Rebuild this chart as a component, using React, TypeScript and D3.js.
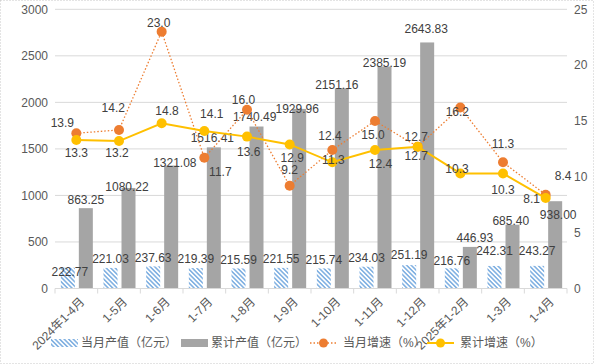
import * as d3 from 'd3';

const categories = ['2024年1-4月', '1-5月', '1-6月', '1-7月', '1-8月', '1-9月', '1-10月', '1-11月', '1-12月', '2025年1-2月', '1-3月', '1-4月'];
const monthlyOutput = [222.77, 221.03, 237.63, 219.39, 215.59, 221.55, 215.74, 234.03, 251.19, 216.76, 242.31, 243.27];
const cumulativeOutput = [863.25, 1080.22, 1321.08, 1516.41, 1740.49, 1929.96, 2151.16, 2385.19, 2643.83, 446.93, 685.4, 938.0];
const monthlyGrowth = [13.9, 14.2, 23.0, 11.7, 16.0, 9.2, 12.4, 15.0, 12.7, 16.2, 11.3, 8.4];
const cumulativeGrowth = [13.3, 13.2, 14.8, 14.1, 13.6, 12.9, 11.3, 12.4, 12.7, 10.3, 10.3, 8.1];
const leftTicks = [0, 500, 1000, 1500, 2000, 2500, 3000];
const rightTicks = [0, 5, 10, 15, 20, 25];
const legendLabels = ['当月产值（亿元）', '累计产值（亿元）', '当月增速（%）', '累计增速（%）'];

// label nudges (px) as placed in the original, [dx, dy] from bar top / point
const monthlyLabelNudge = [[2, 4], [0, -9], [0, -9], [0, -9], [0, -9], [0, -9], [0, -9], [0, -9], [0, -10], [0, -8], [0, -15], [0, -15]];
const cumulativeLabelNudge = [[0, -8], [-1.5, -1], [3.7, -2.6], [-1.5, -10], [-1.7, -10], [-2, 0], [-5, -3.4], [0, -3.6], [-1, -13.6], [5, -9], [-1.7, -4], [3, 14]];
const monthlyGrowthNudge = [[-14, -10], [-5.7, -22.6], [-3, -9.3], [16, 14], [-3.5, -10.5], [0, -15.7], [-2.3, -14], [-2, 14.3], [-1.4, -10], [-3, 4], [0, -18.3], [17.5, -18.7]];
const cumulativeGrowthNudge = [[0, 12.7], [-2, 11.6], [5.3, -12.5], [7.4, -17.7], [1.7, 15], [2.5, 13.6], [1, -3], [5.5, 13.3], [-1.4, 9.4], [-3.3, -5], [0, 16.5], [-14, 1]];

const W = 594;
const H = 364;
const plot = { left: 55, right: 567, top: 9.3, bottom: 288.5 };
const FONT = "'Liberation Sans', 'Noto Sans CJK SC', sans-serif";
const AXIS_TEXT = '#595959';
const LABEL_TEXT = '#404040';
const GRID = '#d9d9d9';
const BLUE = '#4a8fd6';
const GRAY = '#a5a5a5';
const ORANGE = '#ed7d31';
const YELLOW = '#ffc000';

export default function App() {
  const x = d3.scaleBand<string>().domain(categories).range([plot.left, plot.right]);
  const yL = d3.scaleLinear().domain([0, 3000]).range([plot.bottom, plot.top]);
  const yR = d3.scaleLinear().domain([0, 25]).range([plot.bottom, plot.top]);
  const cx = (i: number) => (x(categories[i]) ?? 0) + x.bandwidth() / 2;

  const barW = 14;
  const mX = (i: number) => cx(i) - 15.5;
  const cX = (i: number) => cx(i) + 2.5;

  const growthLine = d3
    .line<number>()
    .x((_, i) => cx(i))
    .y((d) => yR(d));

  const fmt2 = d3.format('.2f');
  const fmt1 = d3.format('.1f');

  const legendY = 343;

  return (
    <svg width={W} height={H} style={{ position: 'fixed', left: 0, top: 0, background: '#fff' }} fontFamily={FONT}>
      <defs>
        <pattern id="hatch" width="3.2" height="3.2" patternUnits="userSpaceOnUse" patternTransform="rotate(-45)">
          <rect width="3.2" height="3.2" fill="#fff" />
          <line x1="0.8" y1="0" x2="0.8" y2="3.2" stroke={BLUE} strokeWidth="1.1" />
        </pattern>
      </defs>
      <rect x={0.5} y={0.5} width={W - 1} height={H - 1} fill="#fff" stroke="#c8c8c8" strokeDasharray="1 2" />

      {/* gridlines */}
      {leftTicks.slice(1).map((t) => (
        <line key={t} x1={plot.left} x2={plot.right} y1={yL(t)} y2={yL(t)} stroke={GRID} strokeWidth={1} />
      ))}
      {/* left axis labels */}
      {leftTicks.map((t) => (
        <text key={t} x={48} y={yL(t)} dy="0.35em" textAnchor="end" fontSize={12} fill={AXIS_TEXT}>
          {t}
        </text>
      ))}
      {/* right axis labels */}
      {rightTicks.map((t) => (
        <text key={t} x={574} y={yR(t)} dy="0.35em" textAnchor="start" fontSize={12} fill={AXIS_TEXT}>
          {t}
        </text>
      ))}

      {/* bars */}
      {monthlyOutput.map((v, i) => (
        <rect key={'m' + i} x={mX(i)} y={yL(v)} width={barW} height={yL(0) - yL(v)} fill="url(#hatch)" />
      ))}
      {cumulativeOutput.map((v, i) => (
        <rect key={'c' + i} x={cX(i)} y={yL(v)} width={barW} height={yL(0) - yL(v)} fill={GRAY} />
      ))}

      {/* x axis */}
      <line x1={plot.left} x2={plot.right} y1={plot.bottom} y2={plot.bottom} stroke={GRID} />
      {d3.range(categories.length + 1).map((i) => {
        const tx = plot.left + i * x.bandwidth();
        return <line key={i} x1={tx} x2={tx} y1={plot.bottom} y2={plot.bottom + 5} stroke={GRID} />;
      })}
      {categories.map((c, i) => (
        <text
          key={c}
          transform={`translate(${cx(i) + 6},${plot.bottom + 11}) rotate(-45)`}
          textAnchor="end"
          dy="0.35em"
          fontSize={12}
          fill={AXIS_TEXT}
        >
          {c}
        </text>
      ))}

      {/* bar labels */}
      {cumulativeOutput.map((v, i) => (
        <text
          key={'cl' + i}
          x={cX(i) + barW / 2 + cumulativeLabelNudge[i][0]}
          y={yL(v) + cumulativeLabelNudge[i][1]}
          dy="0.35em"
          textAnchor="middle"
          fontSize={12}
          fill={LABEL_TEXT}
        >
          {fmt2(v)}
        </text>
      ))}
      {monthlyOutput.map((v, i) => (
        <text
          key={'ml' + i}
          x={mX(i) + barW / 2 + monthlyLabelNudge[i][0]}
          y={yL(v) + monthlyLabelNudge[i][1]}
          dy="0.35em"
          textAnchor="middle"
          fontSize={12}
          fill={LABEL_TEXT}
        >
          {fmt2(v)}
        </text>
      ))}

      {/* growth lines */}
      <path d={growthLine(monthlyGrowth) ?? ''} fill="none" stroke={ORANGE} strokeWidth={1.3} strokeDasharray="1.5 2" />
      {monthlyGrowth.map((v, i) => (
        <circle key={'om' + i} cx={cx(i)} cy={yR(v)} r={5} fill={ORANGE} />
      ))}
      <path d={growthLine(cumulativeGrowth) ?? ''} fill="none" stroke={YELLOW} strokeWidth={2} />
      {cumulativeGrowth.map((v, i) => (
        <circle key={'ym' + i} cx={cx(i)} cy={yR(v)} r={5} fill={YELLOW} />
      ))}

      {monthlyGrowth.map((v, i) => (
        <text
          key={'ol' + i}
          x={cx(i) + monthlyGrowthNudge[i][0]}
          y={yR(v) + monthlyGrowthNudge[i][1]}
          dy="0.35em"
          textAnchor="middle"
          fontSize={12}
          fill={LABEL_TEXT}
        >
          {fmt1(v)}
        </text>
      ))}
      {cumulativeGrowth.map((v, i) => (
        <text
          key={'yl' + i}
          x={cx(i) + cumulativeGrowthNudge[i][0]}
          y={yR(v) + cumulativeGrowthNudge[i][1]}
          dy="0.35em"
          textAnchor="middle"
          fontSize={12}
          fill={LABEL_TEXT}
        >
          {fmt1(v)}
        </text>
      ))}

      {/* legend */}
      <g fontSize={12} fill={AXIS_TEXT}>
        <rect x={51} y={legendY - 4} width={27} height={8} fill="url(#hatch)" />
        <text x={81} y={legendY} dy="0.35em">{legendLabels[0]}</text>
        <rect x={181} y={legendY - 4} width={27} height={8} fill={GRAY} />
        <text x={211} y={legendY} dy="0.35em">{legendLabels[1]}</text>
        <line x1={310} x2={337} y1={legendY} y2={legendY} stroke={ORANGE} strokeWidth={1.3} strokeDasharray="1.5 2" />
        <circle cx={323.5} cy={legendY} r={4.5} fill={ORANGE} />
        <text x={343} y={legendY} dy="0.35em">{legendLabels[2]}</text>
        <line x1={427} x2={454} y1={legendY} y2={legendY} stroke={YELLOW} strokeWidth={2} />
        <circle cx={440.5} cy={legendY} r={4.5} fill={YELLOW} />
        <text x={460} y={legendY} dy="0.35em">{legendLabels[3]}</text>
      </g>
    </svg>
  );
}
